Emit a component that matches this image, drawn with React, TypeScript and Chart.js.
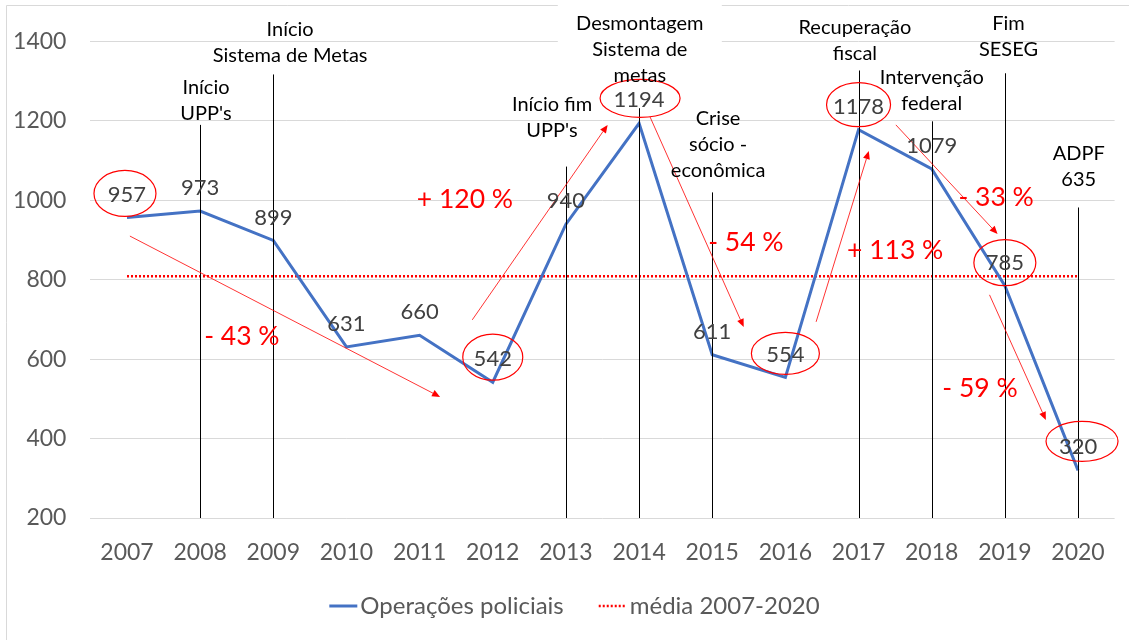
import React, { useEffect, useRef } from "react";
import { Chart, registerables } from "chart.js";

Chart.register(...registerables);

// ---------- data ----------
const years = ["2007", "2008", "2009", "2010", "2011", "2012", "2013", "2014", "2015", "2016", "2017", "2018", "2019", "2020"];
const operacoes = [957, 973, 899, 631, 660, 542, 940, 1194, 611, 554, 1178, 1079, 785, 320];
const media = [809, 809, 809, 809, 809, 809, 809, 809, 809, 809, 809, 809, 809, 809];
const yMin = 200;
const yMax = 1400;
const yStep = 200;

// event markers: vertical lines at category index, up to a value
const eventLineIdx = [1, 2, 6, 7, 8, 10, 11, 12, 13];
const eventLineTop = [1190, 1317, 1085, 1232, 1020, 1327, 1199, 1320, 982];

// event captions (anchor: category index, value of first text line)
const eventText = [
  ["Início", "Sistema de Metas"],
  ["Início", "UPP's"],
  ["Início fim", "UPP's"],
  ["Desmontagem", "Sistema de", "metas"],
  ["Crise", "sócio -", "econômica"],
  ["Recuperação", "fiscal"],
  ["Intervenção", "federal"],
  ["Fim", "SESEG"],
  ["ADPF", "635"],
];
const eventTextX = [2.23, 1.08, 5.81, 7.01, 8.08, 9.95, 11.0, 12.05, 13.01];
const eventTextY = [1431, 1285, 1242, 1446, 1205, 1436, 1310, 1446, 1119];
const boxedCaption = 3;

// circled values (category indices)
const highlighted = [0, 5, 7, 9, 10, 12, 13];

// percentage changes with arrows (category index / value anchors)
const changeText = ["- 43 %", "+ 120 %", "- 54 %", "+ 113 %", "- 33 %", "- 59 %"];
const changeX = [1.57, 4.62, 8.46, 10.5, 11.88, 11.66];
const changeY = [656, 1001, 895, 875, 1006, 527];
const arrowFromX = [0.04, 4.72, 7.15, 9.42, 10.51, 11.79];
const arrowFromY = [910, 699, 1210, 694, 1190, 762];
const arrowToX = [4.28, 6.57, 8.43, 10.14, 11.9, 12.56];
const arrowToY = [505, 1190, 681, 1124, 915, 447];

// ---------- styles ----------
const FONT = "Lato";
const ringRx = [31, 30, 40, 34, 32, 31, 36];
const ringRy = [23, 23, 19, 21, 22, 23, 20];
const ringDx = [-2, 0, 1, 0, 0, 0, 4];
const ringDy = [0, -1, -1, 0, -1, 1, -5];
const LEGEND_CENTER_X = 574.5;
const LEGEND_Y = 606;

const annotate = {
  id: "annotate",
  beforeDraw(chart: any) {
    const { ctx, width, height } = chart;
    ctx.save();
    ctx.fillStyle = "#ffffff";
    ctx.fillRect(0, 0, width, height);
    ctx.strokeStyle = "#d9d9d9";
    ctx.lineWidth = 1;
    ctx.beginPath();
    ctx.moveTo(6.5, height);
    ctx.lineTo(6.5, 5.5);
    ctx.lineTo(width, 5.5);
    ctx.stroke();
    ctx.restore();
  },
  beforeDatasetsDraw(chart: any) {
    const { ctx } = chart;
    const xs = chart.scales.x;
    const ys = chart.scales.y;
    const cx = xs.getPixelForValue(eventTextX[boxedCaption]);
    const y1 = ys.getPixelForValue(eventTextY[boxedCaption]);
    const n = eventText[boxedCaption].length;
    ctx.save();
    ctx.fillStyle = "#ffffff";
    ctx.fillRect(cx - 82, 0, 164, y1 + (n - 1) * 26 + 14);
    ctx.restore();
  },
  afterDatasetsDraw(chart: any) {
    const { ctx } = chart;
    const xs = chart.scales.x;
    const ys = chart.scales.y;
    ctx.save();

    // vertical event lines
    ctx.strokeStyle = "#000000";
    ctx.lineWidth = 1;
    eventLineIdx.forEach((idx, i) => {
      const x = Math.round(xs.getPixelForValue(idx)) + 0.5;
      ctx.beginPath();
      ctx.moveTo(x, ys.getPixelForValue(yMin));
      ctx.lineTo(x, ys.getPixelForValue(eventLineTop[i]));
      ctx.stroke();
    });

    // arrows
    ctx.strokeStyle = "#ff0000";
    ctx.fillStyle = "#ff0000";
    ctx.lineWidth = 0.8;
    arrowFromX.forEach((fx, i) => {
      const x1 = xs.getPixelForValue(fx);
      const y1 = ys.getPixelForValue(arrowFromY[i]);
      const x2 = xs.getPixelForValue(arrowToX[i]);
      const y2 = ys.getPixelForValue(arrowToY[i]);
      const a = Math.atan2(y2 - y1, x2 - x1);
      const L = 8;
      const W = 3.5;
      const bx = x2 - Math.cos(a) * L;
      const by = y2 - Math.sin(a) * L;
      ctx.beginPath();
      ctx.moveTo(x1, y1);
      ctx.lineTo(bx, by);
      ctx.stroke();
      ctx.beginPath();
      ctx.moveTo(x2, y2);
      ctx.lineTo(bx - Math.sin(a) * W, by + Math.cos(a) * W);
      ctx.lineTo(bx + Math.sin(a) * W, by - Math.cos(a) * W);
      ctx.closePath();
      ctx.fill();
    });

    // data labels
    ctx.textAlign = "center";
    ctx.textBaseline = "middle";
    ctx.font = `22px ${FONT}`;
    ctx.fillStyle = "#404040";
    operacoes.forEach((v, i) => {
      ctx.fillText(String(v), xs.getPixelForValue(i), ys.getPixelForValue(v) - 23);
    });

    // ellipses
    ctx.strokeStyle = "#ff0000";
    ctx.lineWidth = 1.2;
    highlighted.forEach((idx, k) => {
      const cx = xs.getPixelForValue(idx) + ringDx[k];
      const cy = ys.getPixelForValue(operacoes[idx]) - 24 + ringDy[k];
      ctx.beginPath();
      ctx.ellipse(cx, cy, ringRx[k], ringRy[k], 0, 0, Math.PI * 2);
      ctx.stroke();
    });

    // event captions
    ctx.fillStyle = "#000000";
    ctx.font = `20px ${FONT}`;
    eventText.forEach((lines, i) => {
      const cx = xs.getPixelForValue(eventTextX[i]);
      const y0 = ys.getPixelForValue(eventTextY[i]);
      lines.forEach((t, j) => ctx.fillText(t, cx, y0 + j * 26));
    });

    // percentage changes
    ctx.fillStyle = "#ff0000";
    ctx.font = `26.5px ${FONT}`;
    changeText.forEach((t, i) => {
      ctx.fillText(t, xs.getPixelForValue(changeX[i]), ys.getPixelForValue(changeY[i]));
    });

    ctx.restore();
  },
  afterDraw(chart: any) {
    // legend (built from the datasets)
    const { ctx } = chart;
    const sets = chart.data.datasets;
    ctx.save();
    ctx.font = `24px ${FONT}`;
    ctx.textBaseline = "middle";
    ctx.textAlign = "left";
    const sample = 28;
    const gapText = 3;
    const gapItem = 35;
    const widths = sets.map((d: any) => ctx.measureText(d.label).width);
    const total = widths.reduce((s: number, w: number) => s + sample + gapText + w, 0) + gapItem * (sets.length - 1);
    let x = LEGEND_CENTER_X - total / 2;
    sets.forEach((d: any, i: number) => {
      ctx.strokeStyle = d.borderColor;
      ctx.lineWidth = d.borderWidth;
      ctx.setLineDash(d.borderDash || []);
      ctx.beginPath();
      ctx.moveTo(x, LEGEND_Y);
      ctx.lineTo(x + sample, LEGEND_Y);
      ctx.stroke();
      ctx.setLineDash([]);
      ctx.fillStyle = "#595959";
      ctx.fillText(d.label, x + sample + gapText, LEGEND_Y);
      x += sample + gapText + widths[i] + gapItem;
    });
    ctx.restore();
  },
};

export default function App() {
  const ref = useRef<HTMLCanvasElement | null>(null);
  useEffect(() => {
    if (!ref.current) return;
    const tickFont = { family: FONT, size: 23 };
    const chart = new Chart(ref.current, {
      type: "line",
      data: {
        labels: years,
        datasets: [
          {
            label: "Operações policiais",
            data: operacoes,
            borderColor: "#4472c4",
            backgroundColor: "#4472c4",
            borderWidth: 3,
            pointRadius: 0,
            tension: 0,
          },
          {
            label: "média 2007-2020",
            data: media,
            borderColor: "#ff0000",
            backgroundColor: "#ff0000",
            borderWidth: 2.5,
            borderDash: [2, 2],
            pointRadius: 0,
          },
        ],
      },
      options: {
        responsive: false,
        animation: false,
        devicePixelRatio: 1,
        layout: { padding: { left: 0, right: 14.4, top: 41.5, bottom: 55 } },
        scales: {
          x: {
            offset: true,
            grid: { display: false, drawTicks: false },
            border: { display: false },
            ticks: { color: "#595959", font: tickFont, padding: 21, maxRotation: 0, autoSkip: false },
            afterFit: (s: any) => {
              s.height = 67;
            },
          },
          y: {
            min: yMin,
            max: yMax,
            ticks: {
              stepSize: yStep,
              color: "#595959",
              font: tickFont,
              padding: 24,
              callback: (v: any) => String(v),
            },
            grid: { color: "#d9d9d9", drawTicks: false, lineWidth: 1 },
            border: { display: false },
            afterFit: (s: any) => {
              s.width = 90.4;
            },
          },
        },
        plugins: {
          legend: { display: false },
          tooltip: { enabled: false },
        },
      } as any,
      plugins: [annotate],
    });
    return () => chart.destroy();
  }, []);
  return (
    <div style={{ position: "absolute", left: 0, top: 0, width: 1129, height: 640, background: "#fff" }}>
      <canvas ref={ref} width={1129} height={640} />
    </div>
  );
}
